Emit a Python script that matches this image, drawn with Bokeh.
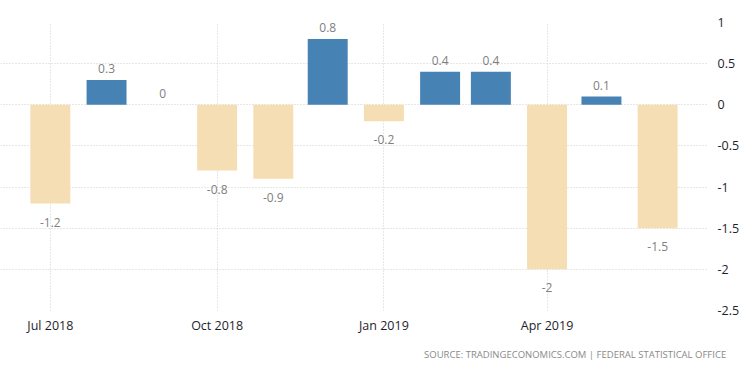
import pandas as pd
from bokeh.plotting import figure
from bokeh.models import ColumnDataSource, FixedTicker, DatetimeTickFormatter, Range1d, Title
from bokeh.core.properties import value
from bokeh.embed import file_html
from bokeh.resources import INLINE

# ---- data ----
months = ["2018-07-01", "2018-08-01", "2018-09-01", "2018-10-01", "2018-11-01", "2018-12-01",
          "2019-01-01", "2019-02-01", "2019-03-01", "2019-04-01", "2019-05-01", "2019-06-01"]
values = [-1.2, 0.3, 0, -0.8, -0.9, 0.8, -0.2, 0.4, 0.4, -2, 0.1, -1.5]
value_labels = ["-1.2", "0.3", "0", "-0.8", "-0.9", "0.8", "-0.2", "0.4", "0.4", "-2", "0.1", "-1.5"]
x_tick_dates = ["2018-07-01", "2018-10-01", "2019-01-01", "2019-04-01"]
y_ticks = [1, 0.5, 0, -0.5, -1, -1.5, -2, -2.5]
y_tick_labels = ["1", "0.5", "0", "-0.5", "-1", "-1.5", "-2", "-2.5"]
source_text = "SOURCE:  TRADINGECONOMICS.COM  |  FEDERAL  STATISTICAL  OFFICE"

POS_COLOR = "#4682B4"
NEG_COLOR = "#F5DEB3"

dates = pd.to_datetime(months)
DAY = 86400000.0
colors = [POS_COLOR if v > 0 else NEG_COLOR for v in values]

src = ColumnDataSource(dict(x=dates, top=values, color=colors, label=value_labels))
pos_idx = [i for i, v in enumerate(values) if v >= 0]
neg_idx = [i for i, v in enumerate(values) if v < 0]
src_pos = ColumnDataSource(dict(x=[dates[i] for i in pos_idx], y=[values[i] for i in pos_idx],
                                label=[value_labels[i] for i in pos_idx]))
src_neg = ColumnDataSource(dict(x=[dates[i] for i in neg_idx], y=[values[i] for i in neg_idx],
                                label=[value_labels[i] for i in neg_idx]))

x_start = dates[0] - pd.Timedelta(days=27.5)
x_end = dates[-1] + pd.Timedelta(days=27.5)

p = figure(width=742, height=370, x_axis_type="datetime", y_axis_location="right",
           output_backend="svg", toolbar_location=None,
           x_range=Range1d(x_start, x_end), y_range=Range1d(-2.5, 1),
           min_border_left=0, min_border_right=34, min_border_top=22, min_border_bottom=60)
p.outline_line_color = None
p.background_fill_color = "white"
p.border_fill_color = "white"

p.vbar(x="x", top="top", bottom=0, width=22.04 * DAY, color="color", line_color=None, source=src)

p.text(x="x", y="y", text="label", source=src_pos, text_align="center", text_baseline="bottom",
       y_offset=-7, text_font=value("Open Sans"), text_font_size="12px", text_color="#808080")
p.text(x="x", y="y", text="label", source=src_neg, text_align="center", text_baseline="top",
       y_offset=14, text_font=value("Open Sans"), text_font_size="12px", text_color="#808080")

# axes
p.xaxis.ticker = FixedTicker(ticks=[pd.Timestamp(d).value / 1e6 for d in x_tick_dates])
p.xaxis.formatter = DatetimeTickFormatter(months="%b %Y", days="%b %Y", years="%b %Y")
p.yaxis.ticker = FixedTicker(ticks=y_ticks)
p.yaxis.major_label_overrides = {float(t): l for t, l in zip(y_ticks, y_tick_labels)}
for ax in (p.xaxis[0], p.yaxis[0]):
    ax.axis_line_color = None
    ax.major_tick_line_color = None
    ax.minor_tick_line_color = None
    ax.major_label_text_font = "Open Sans"
    ax.major_label_text_font_size = "12.5px"
    ax.major_label_text_color = "#1e1e2a"
p.xaxis.major_label_standoff = 0
p.yaxis.major_label_standoff = 4

p.xgrid.grid_line_color = "#cfcfcf"
p.xgrid.grid_line_dash = "1 2"
p.ygrid.grid_line_color = "#cfcfcf"
p.ygrid.grid_line_dash = "1 2"

t = Title(text=source_text, align="right", text_font="Open Sans", text_font_size="9.5px",
          text_color="#8a8a8a", text_font_style="normal", standoff=19, offset=-31)
p.add_layout(t, "below")

open("out.html", "w").write(file_html(p, INLINE))
